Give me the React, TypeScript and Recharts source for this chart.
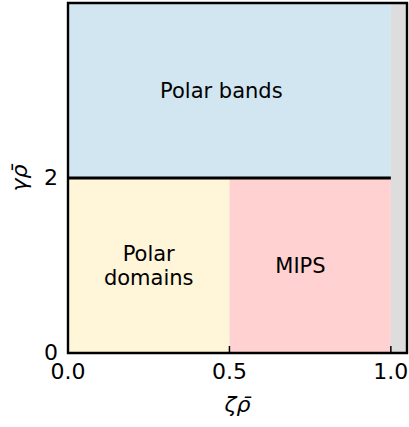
import { ComposedChart, XAxis, YAxis, ReferenceArea, Line, Scatter } from "recharts";

const FONT = "'DejaVu Sans', sans-serif";

// phase regions (rectangles in data units)
const regionNames = ["Polar bands", "Polar domains", "MIPS", "Forbidden"];
const regionX1 = [0, 0, 0.5, 1];
const regionX2 = [1, 0.5, 1, 1.05];
const regionY1 = [2, 0, 0, 0];
const regionY2 = [4, 2, 2, 4];
const regionFills = ["#d1e6f0", "#fff5d9", "#ffd1d1", "#dddddd"];

// text labels inside the regions
const labelText = ["Polar bands", "Polar\ndomains", "MIPS"];
const labelX = [0.475, 0.25, 0.72];
const labelY = [3, 1, 1];

// boundary between banded and homogeneous states
const boundaryX = [0, 1];
const boundaryY = [2, 2];

const xTicks = [0, 0.5, 1];
const yTicks = [0, 2];
const xDomain: [number, number] = [0, 1.05];
const yDomain: [number, number] = [0, 4];

const labelPoints = labelText.map((text, i) => ({ x: labelX[i], y: labelY[i], text }));
const boundary = boundaryX.map((x, i) => ({ x, y: boundaryY[i] }));

// eslint-disable-next-line @typescript-eslint/no-explicit-any
function RegionText(props: any) {
  const { cx, cy, payload } = props;
  const lines: string[] = payload.text.split("\n");
  const lh = 24;
  const y0 = cy - ((lines.length - 1) * lh) / 2;
  return (
    <text textAnchor="middle" fontSize={21} fontFamily={FONT} fill="#000">
      {lines.map((l, i) => (
        <tspan key={i} x={cx} y={y0 + i * lh} dy="0.36em">
          {l}
        </tspan>
      ))}
    </text>
  );
}

// inward ticks like matplotlib's direction="in"
// eslint-disable-next-line @typescript-eslint/no-explicit-any
function XTick(props: any) {
  const { x, y, payload } = props;
  return (
    <g>
      <line x1={x} x2={x} y1={y} y2={y - 7} stroke="#000" strokeWidth={1.5} />
      <text x={x} y={y + 26} textAnchor="middle" fontSize={22} fontFamily={FONT} fill="#000">
        {Number(payload.value).toFixed(1)}
      </text>
    </g>
  );
}

// eslint-disable-next-line @typescript-eslint/no-explicit-any
function YTick(props: any) {
  const { x, y, payload } = props;
  return (
    <g>
      <line x1={x} x2={x + 7} y1={y} y2={y} stroke="#000" strokeWidth={1.5} />
      <text x={x - 10} y={y} dy="0.3em" textAnchor="end" fontSize={22} fontFamily={FONT} fill="#000">
        {payload.value}
      </text>
    </g>
  );
}

// eslint-disable-next-line @typescript-eslint/no-explicit-any
function XTitle(props: any) {
  const { x, width } = props.viewBox;
  return (
    <text x={x + width / 2} y={412} textAnchor="middle" fontSize={22} fontFamily={FONT} fontStyle="italic" fill="#000">
      ζρ̄
    </text>
  );
}

// eslint-disable-next-line @typescript-eslint/no-explicit-any
function YTitle(props: any) {
  const { y, height } = props.viewBox;
  const cy = y + height / 2;
  return (
    <text
      x={27}
      y={cy}
      transform={`rotate(-90 27 ${cy})`}
      textAnchor="middle"
      fontSize={22}
      fontFamily={FONT}
      fontStyle="italic"
      fill="#000"
    >
      γρ̄
    </text>
  );
}

export default function App() {
  return (
    <div style={{ width: 409, height: 427 }}>
      <style>{`body { margin: 0; }`}</style>
      <ComposedChart width={409} height={427} margin={{ top: 3, right: 2, bottom: 0, left: 0 }}>
        {regionNames.map((name, i) => (
          <ReferenceArea
            key={name}
            x1={regionX1[i]}
            x2={regionX2[i]}
            y1={regionY1[i]}
            y2={regionY2[i]}
            fill={regionFills[i]}
            fillOpacity={1}
            stroke="none"
            ifOverflow="extendDomain"
          />
        ))}
        <Line
          data={boundary}
          dataKey="y"
          stroke="#000"
          strokeWidth={2.8}
          dot={false}
          isAnimationActive={false}
        />
        <Scatter data={labelPoints} dataKey="y" shape={RegionText} isAnimationActive={false} />
        <ReferenceArea
          x1={xDomain[0]}
          x2={xDomain[1]}
          y1={yDomain[0]}
          y2={yDomain[1]}
          fill="none"
          stroke="#000"
          strokeWidth={2.4}
          ifOverflow="extendDomain"
        />
        <XAxis
          type="number"
          dataKey="x"
          domain={xDomain}
          ticks={xTicks}
          height={74}
          axisLine={false}
          tickLine={false}
          tickSize={0}
          tickMargin={0}
          tick={XTick}
          interval={0}
          label={XTitle}
        />
        <YAxis
          type="number"
          dataKey="y"
          domain={yDomain}
          ticks={yTicks}
          width={68}
          axisLine={false}
          tickLine={false}
          tickSize={0}
          tickMargin={0}
          tick={YTick}
          interval={0}
          label={YTitle}
        />
      </ComposedChart>
    </div>
  );
}
